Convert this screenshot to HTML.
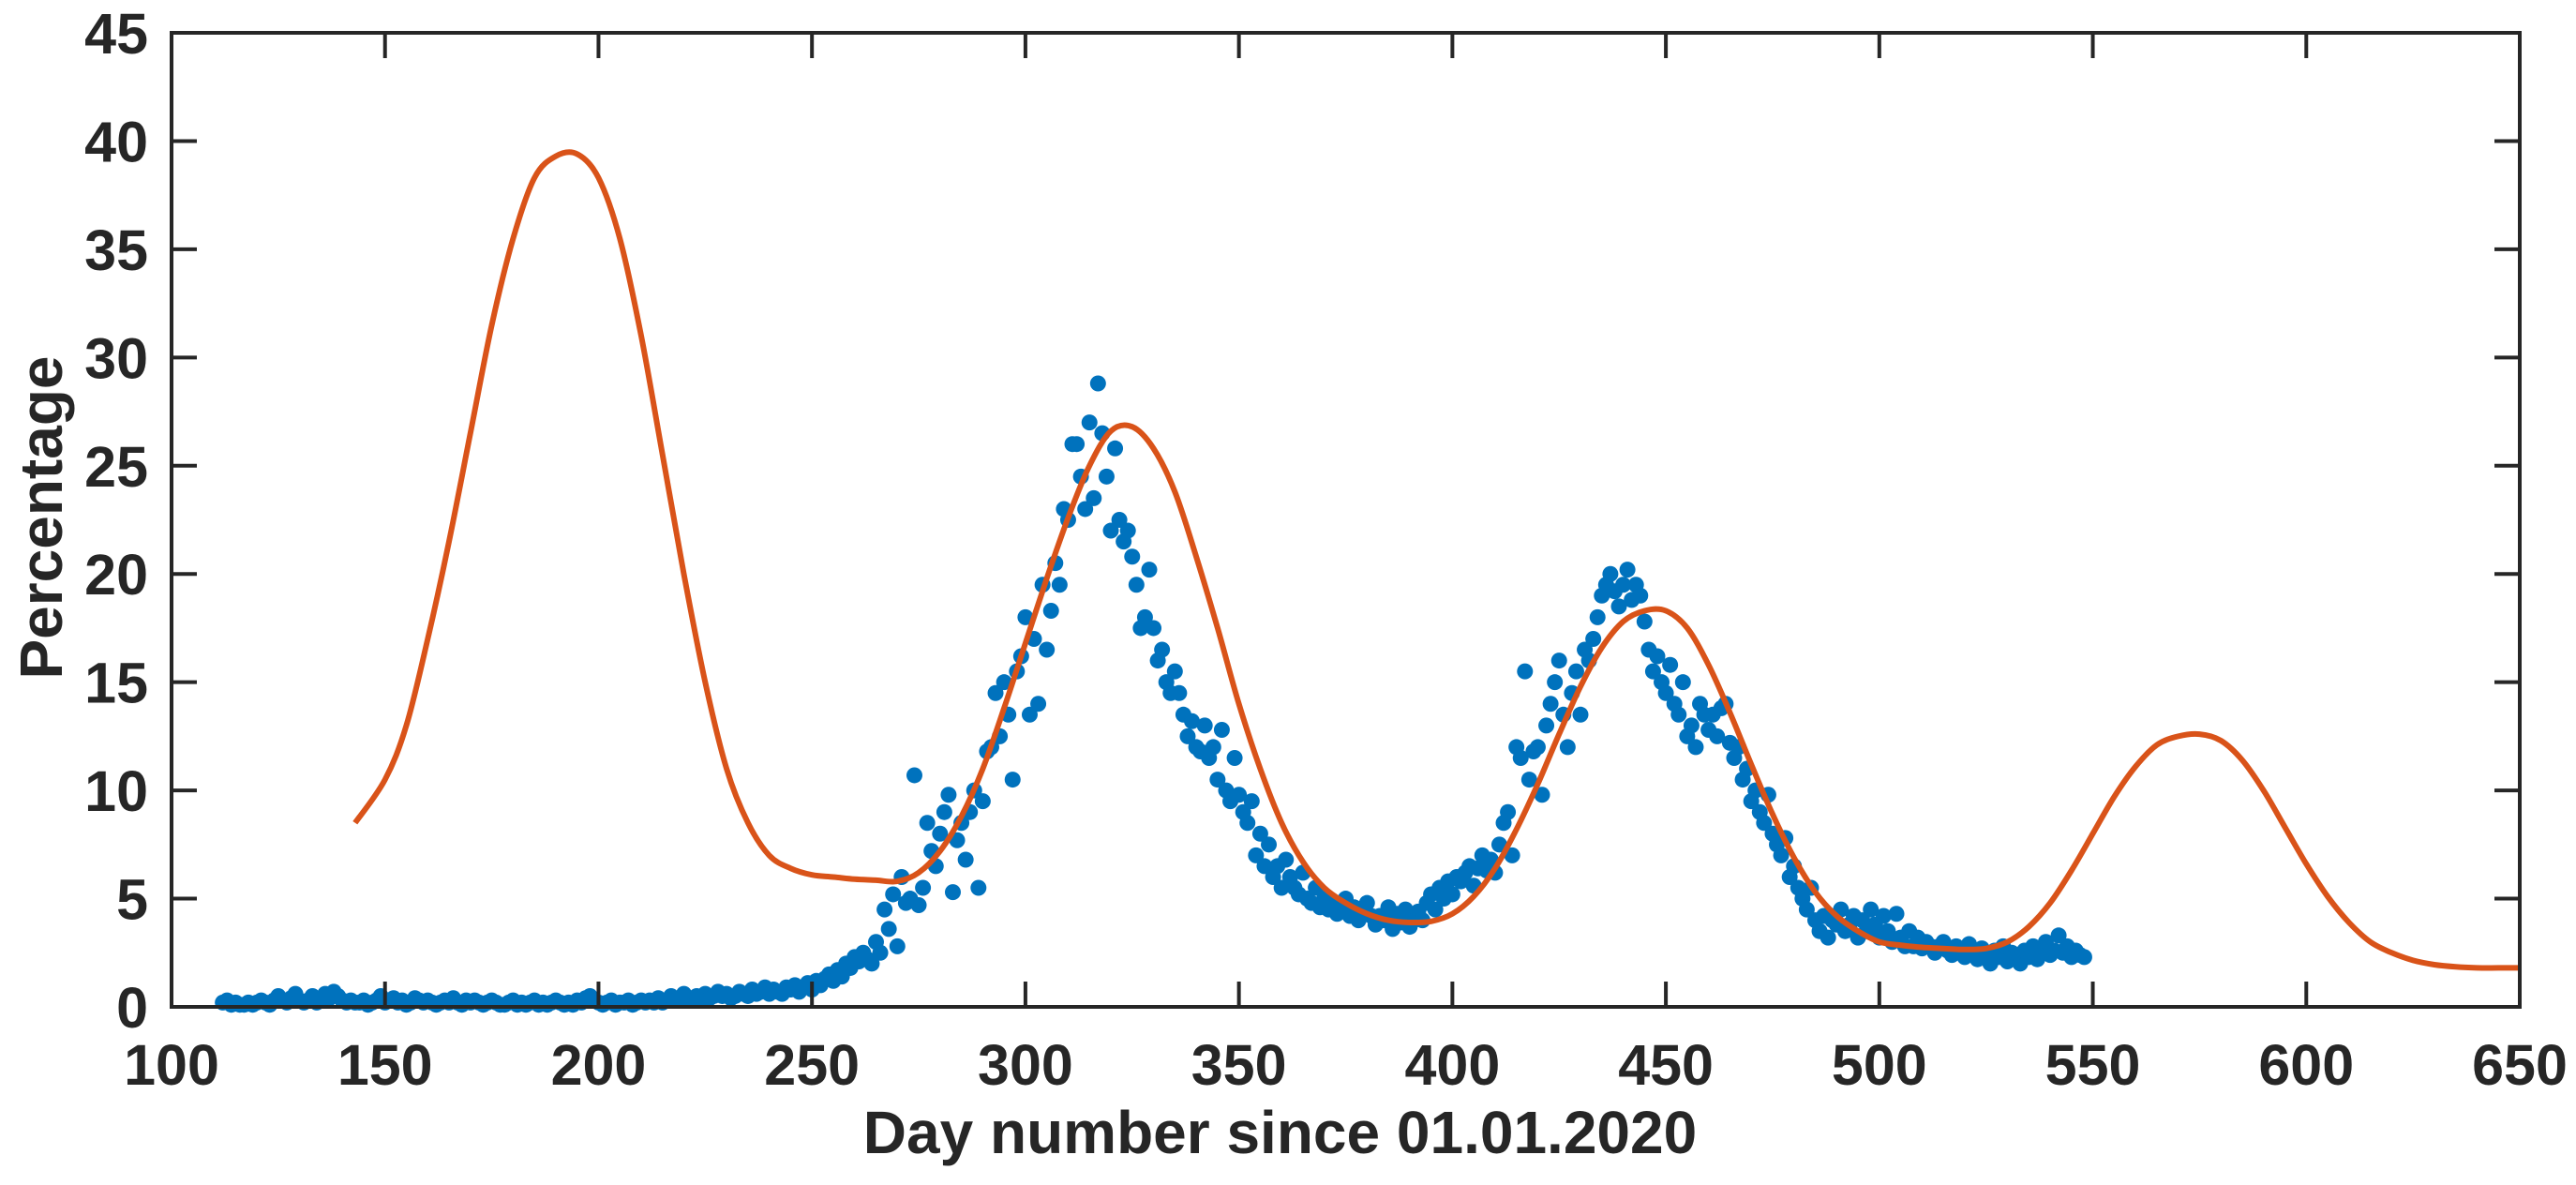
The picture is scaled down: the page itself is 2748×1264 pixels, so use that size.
<!DOCTYPE html>
<html><head><meta charset="utf-8"><style>
html,body{margin:0;padding:0;background:#fff;}
svg{display:block;font-family:"Liberation Sans",Arial,sans-serif;font-weight:bold;}
</style></head><body>
<svg id="chart" width="2748" height="1264" viewBox="0 0 2748 1264">
<g id="plot"></g>
</svg>
<script>
const xTicks=[100,150,200,250,300,350,400,450,500,550,600,650];
const yTicks=[0,5,10,15,20,25,30,35,40,45];
const dataStartDay=112;
const observed=[
0.2,0.3,0.1,0.2,0.1,0.1,0.2,0.1,0.2,0.3,
0.2,0.1,0.3,0.5,0.3,0.2,0.4,0.6,0.3,0.2,
0.3,0.5,0.2,0.3,0.6,0.4,0.7,0.5,0.3,0.2,
0.3,0.2,0.2,0.3,0.1,0.2,0.3,0.5,0.2,0.3,
0.4,0.2,0.3,0.1,0.2,0.4,0.3,0.2,0.3,0.2,
0.1,0.2,0.3,0.2,0.4,0.2,0.1,0.3,0.2,0.3,
0.2,0.1,0.2,0.3,0.2,0.1,0.1,0.2,0.3,0.1,
0.2,0.1,0.2,0.3,0.1,0.2,0.1,0.2,0.3,0.2,
0.1,0.2,0.1,0.3,0.2,0.4,0.5,0.3,0.2,0.1,
0.2,0.3,0.1,0.2,0.2,0.3,0.1,0.2,0.3,0.2,
0.3,0.2,0.4,0.2,0.3,0.5,0.3,0.4,0.6,0.3,
0.4,0.5,0.3,0.6,0.4,0.5,0.7,0.5,0.6,0.4,
0.5,0.7,0.6,0.5,0.8,0.6,0.7,0.9,0.6,0.8,
0.7,0.6,0.9,0.8,1.0,0.7,0.9,1.1,0.8,1.2,
1.0,1.3,1.5,1.2,1.7,1.4,2.0,1.8,2.3,2.1,
2.5,2.2,2.0,3.0,2.5,4.5,3.6,5.2,2.8,6.0,
4.8,5.0,10.7,4.7,5.5,8.5,7.2,6.5,8.0,9.0,
9.8,5.3,7.7,8.5,6.8,9.0,10.0,5.5,9.5,11.8,
12.0,14.5,12.5,15.0,13.5,10.5,15.5,16.2,18.0,13.5,
17.0,14.0,19.5,16.5,18.3,20.5,19.5,23.0,22.5,26.0,
26.0,24.5,23.0,27.0,23.5,28.8,26.5,24.5,22.0,25.8,
22.5,21.5,22.0,20.8,19.5,17.5,18.0,20.2,17.5,16.0,
16.5,15.0,14.5,15.5,14.5,13.5,12.5,13.2,12.0,11.8,
13.0,11.5,12.0,10.5,12.8,10.0,9.5,11.5,9.8,9.0,
8.5,9.5,7.0,8.0,6.5,7.5,6.0,6.5,5.5,6.8,
6.0,5.5,5.2,6.2,5.0,4.8,5.5,4.6,5.0,4.5,
4.8,4.3,4.5,5.0,4.2,4.6,4.0,4.4,4.8,4.2,
3.8,4.2,4.0,4.6,3.6,4.3,3.9,4.5,3.7,4.0,
4.4,4.0,4.8,5.2,4.5,5.5,5.0,5.8,5.2,6.0,
5.8,6.2,6.5,5.6,6.4,7.0,6.3,6.8,6.2,7.5,
8.5,9.0,7.0,12.0,11.5,15.5,10.5,11.8,12.0,9.8,
13.0,14.0,15.0,16.0,13.5,12.0,14.5,15.5,13.5,16.5,
16.0,17.0,18.0,19.0,19.5,20.0,19.2,18.5,19.5,20.2,
18.8,19.5,19.0,17.8,16.5,15.5,16.2,15.0,14.5,15.8,
14.0,13.5,15.0,12.5,13.0,12.0,14.0,13.5,12.8,13.5,
12.5,13.8,14.0,12.2,11.5,12.0,10.5,11.0,9.5,10.0,
9.0,8.5,9.8,8.0,7.5,7.0,7.8,6.0,6.5,5.5,
5.0,4.5,5.5,4.0,3.5,4.2,3.2,4.0,3.8,4.5,
3.5,3.8,4.2,3.2,4.0,3.5,4.5,3.8,3.2,4.2,
3.5,3.0,4.3,3.2,2.8,3.5,2.8,3.2,2.7,3.0,
2.8,2.5,2.8,3.0,2.6,2.4,2.8,2.6,2.3,2.9,
2.5,2.2,2.7,2.4,2.0,2.6,2.3,2.8,2.1,2.5,
2.4,2.0,2.6,2.3,2.8,2.2,2.5,3.0,2.4,2.6,
3.3,2.5,2.8,2.3,2.6,2.4,2.3];
const fitDays=[143,150,155,160,165,170,175,180,185,190,195,200,205,210,215,220,225,230,235,240,245,250,255,260,265,270,275,280,285,290,295,300,305,310,315,320,325,330,335,340,345,350,355,360,365,370,375,380,385,390,395,400,405,410,415,420,425,430,435,440,445,450,455,460,465,470,475,480,485,490,495,500,505,510,515,520,525,530,535,540,545,550,555,560,565,570,575,580,585,590,595,600,605,610,615,620,625,630,635,640,645,650];
const fitValues=[8.5,10.5,13,17,21.5,26.5,31.5,35.5,38.3,39.3,39.4,38.3,35.5,31,25.5,20,15,11,8.5,7,6.4,6.1,6.0,5.9,5.85,5.8,6.2,7.2,8.8,11,13.8,16.8,19.8,22.6,25,26.6,26.8,25.8,23.8,20.8,17.5,14,11,8.5,6.7,5.5,4.8,4.3,4.0,3.9,3.95,4.3,5.1,6.4,8.2,10.3,12.6,14.8,16.6,17.8,18.3,18.3,17.5,15.8,13.6,11.2,8.9,6.9,5.3,4.2,3.5,3.0,2.85,2.75,2.7,2.65,2.7,3.0,3.7,4.8,6.3,8.0,9.7,11.1,12.1,12.5,12.6,12.3,11.4,10,8.3,6.6,5.1,3.9,3.0,2.5,2.15,1.95,1.85,1.8,1.8,1.8];

const L=183,R=2688,T=35,B=1074,X0=100,X1=650,Y0=0,Y1=45;
const sx=d=>L+(d-X0)/(X1-X0)*(R-L);
const sy=v=>B-(v-Y0)/(Y1-Y0)*(B-T);
const NS='http://www.w3.org/2000/svg';
const g=document.getElementById('plot');
function mk(tag,attrs,parent){const e=document.createElementNS(NS,tag);for(const k in attrs)e.setAttribute(k,attrs[k]);(parent||g).appendChild(e);return e;}

const dots=mk('g',{fill:'#0072BD'});


observed.forEach((v,i)=>{
  const c=mk('circle',{cx:sx(dataStartDay+i),cy:sy(v),r:8.5},dots);
  
  
});

const P=fitDays.map((d,i)=>[sx(d),sy(fitValues[i])]);
let dstr='M'+P[0][0].toFixed(1)+','+P[0][1].toFixed(1);
for(let i=0;i<P.length-1;i++){
  const p0=P[Math.max(0,i-1)],p1=P[i],p2=P[i+1],p3=P[Math.min(P.length-1,i+2)];
  const c1=[p1[0]+(p2[0]-p0[0])/6,p1[1]+(p2[1]-p0[1])/6];
  const c2=[p2[0]-(p3[0]-p1[0])/6,p2[1]-(p3[1]-p1[1])/6];
  dstr+=' C'+c1[0].toFixed(1)+','+c1[1].toFixed(1)+' '+c2[0].toFixed(1)+','+c2[1].toFixed(1)+' '+p2[0].toFixed(1)+','+p2[1].toFixed(1);
}
const line=mk('path',{d:dstr,fill:'none',stroke:'#D95319','stroke-width':6,'stroke-linejoin':'round'});



const box=mk('rect',{x:L,y:T,width:R-L,height:B-T,fill:'none',stroke:'#262626','stroke-width':4});


const tl=27;
xTicks.forEach(t=>{
  const x=sx(t);
  const a=mk('line',{x1:x,x2:x,y1:B,y2:B-tl,stroke:'#262626','stroke-width':4});
  
  
  const b=mk('line',{x1:x,x2:x,y1:T,y2:T+tl,stroke:'#262626','stroke-width':4});
  
  
  const tx=mk('text',{x:x,y:1157,'text-anchor':'middle','font-size':61,fill:'#262626'});
  tx.textContent=t;
  
  
});
yTicks.forEach(t=>{
  const y=sy(t);
  const a=mk('line',{x1:L,x2:L+tl,y1:y,y2:y,stroke:'#262626','stroke-width':4});
  
  
  const b=mk('line',{x1:R,x2:R-tl,y1:y,y2:y,stroke:'#262626','stroke-width':4});
  
  
  const tx=mk('text',{x:158,y:y+22,'text-anchor':'end','font-size':61,fill:'#262626'});
  tx.textContent=t;
  
  
});
const xl=mk('text',{x:(L+R)/2-70,y:1230,'text-anchor':'middle','font-size':64,fill:'#262626'});
xl.textContent='Day number since 01.01.2020';


const yl=mk('text',{x:0,y:0,'text-anchor':'middle','font-size':64,fill:'#262626',transform:'translate(66,552) rotate(-90)'});
yl.textContent='Percentage';


</script>
</body></html>
